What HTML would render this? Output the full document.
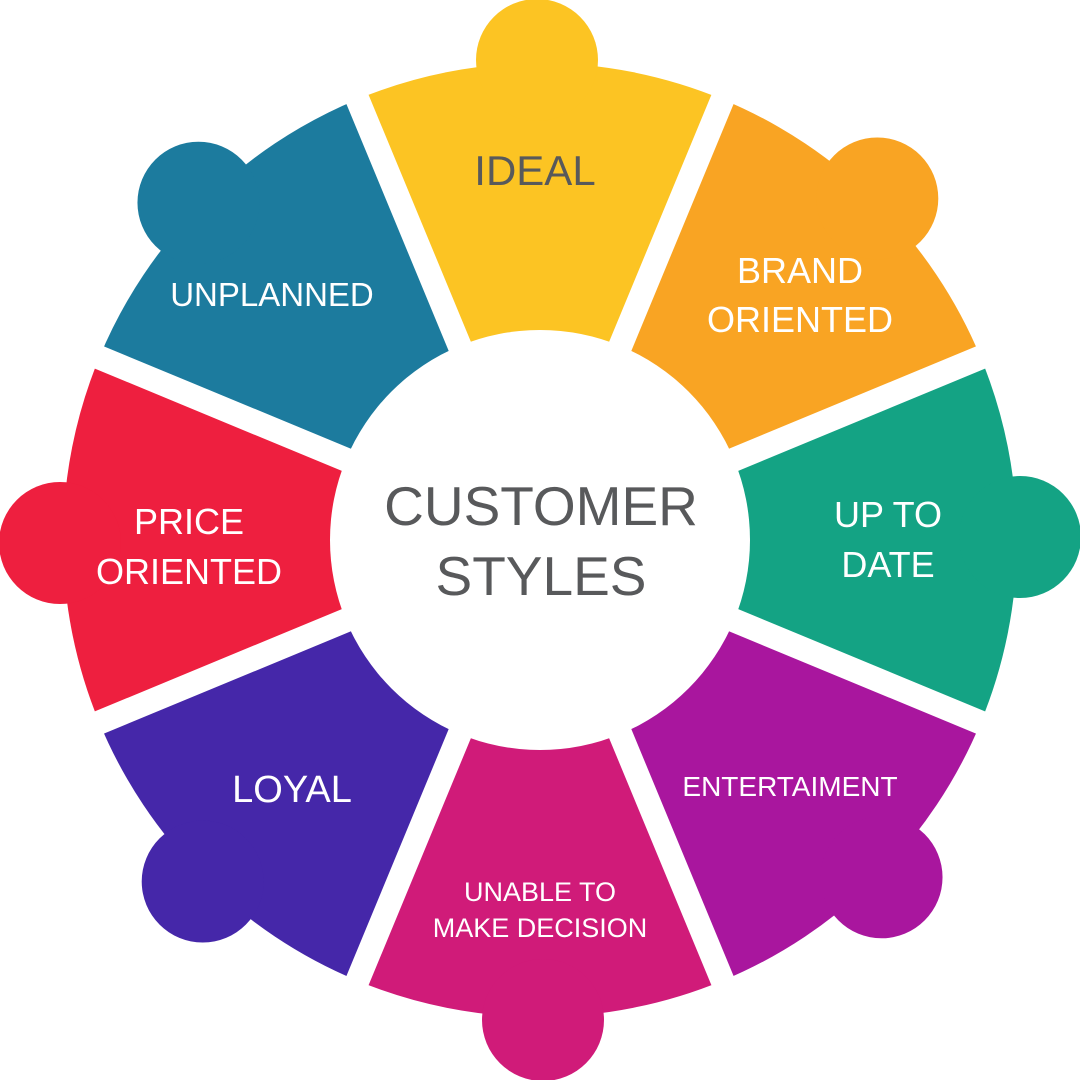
<!DOCTYPE html>
<html><head><meta charset="utf-8"><style>
html,body{margin:0;padding:0;background:#fff;}
svg{display:block;}
text{font-family:"Liberation Sans",sans-serif;text-anchor:middle;}
</style></head><body>
<svg width="1080" height="1080" viewBox="0 0 1080 1080">
<defs>
<g id="w"><path d="M540 540 L357.5 99.3 A477 477 0 0 1 722.5 99.3 Z"/><circle cx="537" cy="60" r="61"/></g>
</defs>
<use href="#w" fill="#FCC423"/>
<use href="#w" fill="#F9A423" transform="rotate(45 540 540)"/>
<use href="#w" fill="#14A384" transform="rotate(90 540 540)"/>
<use href="#w" fill="#A9169E" transform="rotate(135 540 540)"/>
<use href="#w" fill="#D01B79" transform="rotate(180 540 540)"/>
<use href="#w" fill="#4527A9" transform="rotate(225 540 540)"/>
<use href="#w" fill="#EE1F3F" transform="rotate(270 540 540)"/>
<use href="#w" fill="#1C7B9E" transform="rotate(315 540 540)"/>
<g stroke="#fff" stroke-width="24">
<line x1="540" y1="540" x2="540" y2="0" transform="rotate(-22.5 540 540)"/>
<line x1="540" y1="540" x2="540" y2="0" transform="rotate(22.5 540 540)"/>
<line x1="540" y1="540" x2="540" y2="0" transform="rotate(67.5 540 540)"/>
<line x1="540" y1="540" x2="540" y2="0" transform="rotate(112.5 540 540)"/>
<line x1="540" y1="540" x2="540" y2="0" transform="rotate(157.5 540 540)"/>
<line x1="540" y1="540" x2="540" y2="0" transform="rotate(202.5 540 540)"/>
<line x1="540" y1="540" x2="540" y2="0" transform="rotate(247.5 540 540)"/>
<line x1="540" y1="540" x2="540" y2="0" transform="rotate(292.5 540 540)"/>
</g>
<circle cx="540" cy="540" r="210" fill="#fff"/>
<g fill="#58595B" font-size="55">
<text x="541" y="525">CUSTOMER</text>
<text x="541" y="595">STYLES</text>
</g>
<text x="535" y="185" fill="#58595B" font-size="42">IDEAL</text>
<g fill="#fff" font-size="36">
<text x="800" y="283">BRAND</text>
<text x="800" y="332">ORIENTED</text>
<text x="888" y="527">UP TO</text>
<text x="888" y="577">DATE</text>
<text x="292" y="802" font-size="38">LOYAL</text>
<text x="189" y="534">PRICE</text>
<text x="189" y="584">ORIENTED</text>
<text x="272" y="306" font-size="33">UNPLANNED</text>
<text x="790" y="796" font-size="28">ENTERTAIMENT</text>
<text x="540" y="901" font-size="27">UNABLE TO</text>
<text x="540" y="937" font-size="27">MAKE DECISION</text>
</g>
</svg>
</body></html>
